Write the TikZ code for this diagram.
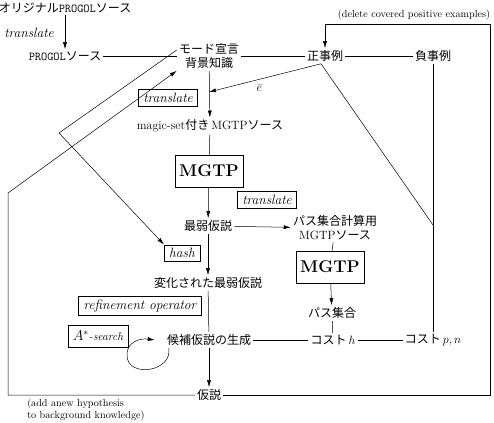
\documentclass[tikz,border=0pt]{standalone}
\usepackage{fontspec}
\newfontfamily\jp{Noto Sans CJK JP}
\usetikzlibrary{arrows.meta,positioning,calc}

\begin{document}
\begin{tikzpicture}
	[x=1pt,y=-1pt,>={Latex[length=7pt,width=4pt]},line width=.5pt,
	font=\fontsize{12}{14}\selectfont,
	txt/.style={draw=none,fill=none,inner sep=2pt,align=center},
	opbox/.style={draw,inner xsep=5pt,inner ysep=3.5pt,font=\fontsize{13.5}{15}\selectfont\itshape},
	mgtpbox/.style={draw,minimum width=68pt,minimum height=32pt,font=\fontsize{17}{20}\selectfont\bfseries},
	note/.style={draw=none,fill=none,inner sep=0pt,align=left,font=\fontsize{10.2}{12}\selectfont}]
	
	\useasboundingbox (0,0) rectangle (494,422);
	
	% sources
	\node[txt] (orig) at (65,8) {{\jp オリジナル}\texttt{PROGOL}{\jp ソース}};
	\node[txt] (progol) at (65,56) {\texttt{PROGOL}{\jp ソース}};
	\node[txt] (mode) at (209,56) {{\jp モード宣言}\\{\jp 背景知識}};
	\node[txt] (pos) at (325,56) {\jp 正事例};
	\node[txt] (neg) at (433,56) {\jp 負事例};
	\node[txt,font=\fontsize{13.5}{15}\selectfont\itshape] (tr1) at (29,33) {translate};
	
	% main column
	\node[txt] (magic) at (210,126) {magic-set{\jp 付き}\,MGTP{\jp ソース}};
	\node[mgtpbox] (mgtp1) at (209,171) {MGTP};
	\node[txt] (weak) at (208,226) {\jp 最弱仮説};
	\node[txt] (mod) at (208,283) {\jp 変化された最弱仮説};
	\node[txt] (cand) at (209,340) {\jp 候補仮説の生成};
	\node[txt] (hyp) at (209,395) {\jp 仮説};
	
	% path set column
	\node[txt] (path) at (335,228) {{\jp パス集合計算用}\\MGTP{\jp ソース}};
	\node[mgtpbox] (mgtp2) at (330,267) {MGTP};
	\node[txt] (pset) at (332,313) {\jp パス集合};
	\node[txt] (costh) at (333,340) {{\jp コスト}\,$h$};
	\node[txt] (costpn) at (433,340) {{\jp コスト}\,$p,n$};
	
	% operation boxes
	\node[opbox] (tr2) at (168,98) {translate};
	\node[opbox] (tr3) at (267,200) {translate};
	\node[opbox] (hash) at (182,253) {hash};
	\node[opbox] (refine) at (140,306) {refinement operator};
	\node[draw,inner xsep=5pt,inner ysep=6pt,font=\fontsize{14}{16}\selectfont] (astar) at (98,336) {$A^{*}${\fontsize{11.5}{13}\selectfont\itshape -search}};
	
	% notes
	\node[note] (del) at (414,15) {(delete covered positive examples)};
	\node[note,anchor=north west] (add) at (27,399) {(add anew hypothesis\\to background knowledge)};
	
	% corners
	\coordinate (bl) at (8,395);
	\coordinate (ml) at (8,193);
	\coordinate (hk) at (59,133);
	\coordinate (br) at (490,395);
	\coordinate (tr) at (490,24);
	\coordinate (tp) at (325,24);
	\coordinate (pj) at (433,225);
	\coordinate (em) at (209,92);
	
	\draw[->] (orig) -- (progol);
	\draw (progol) -- (mode);
	\draw (mode) -- (pos);
	\draw (pos) -- (neg);
	\draw[->] (mode) -- (magic);
	\draw[->] ([xshift=-4pt]pos.south) -- node[below=2pt,pos=.55] {$\bar{e}$} (em);
	\draw ([xshift=-4pt]pos.south) -- (pj);
	\draw (neg) -- (costpn);
	\draw (magic) -- (mgtp1);
	\draw[->] (mgtp1) -- (weak);
	\draw[->] (weak) -- (path);
	\draw (path) -- (mgtp2);
	\draw[->] (mgtp2) -- (pset);
	\draw (pset) -- (costh);
	\draw[->] (weak) -- (mod);
	\draw (mod) -- (cand);
	\draw[->] (cand) -- (hyp);
	\draw (cand) -- (costh);
	\draw (costh) -- (costpn);
	\draw[->] ([yshift=6pt]mode.west) -- (hk) -- (hash.north west);
	\draw[->] (hyp.west) -- (bl) -- (ml) -- (mode.south west);
	\draw[->] (hyp.east) -- (br) -- (tr) -- (tp) -- (pos.north);
	\draw[->] ([xshift=4pt]cand.south west) .. controls (173,372) and (128,378) .. (127,356)
		.. controls (126,342) and (140,338) .. ([xshift=-10pt]cand.west);
\end{tikzpicture}
\end{document}
